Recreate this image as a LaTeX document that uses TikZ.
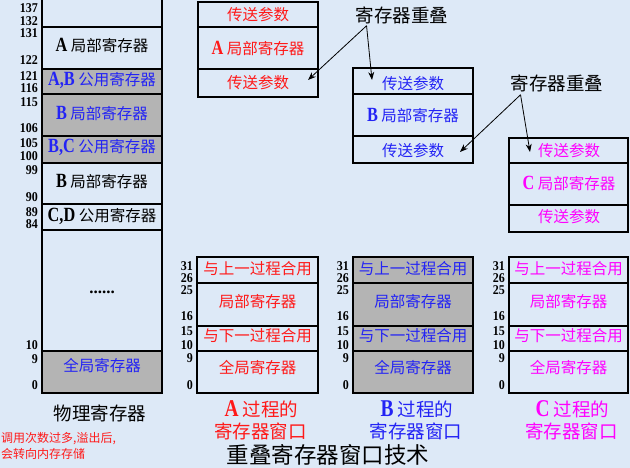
\documentclass[tikz,border=0pt]{standalone}
\usepackage{fontspec}
\usepackage{graphicx}
\setmainfont{Liberation Serif}
\newfontfamily\cjk{Noto Sans CJK SC}
\usetikzlibrary{arrows.meta}
\definecolor{bg}{RGB}{221,233,247}
\definecolor{cellgray}{RGB}{180,180,180}
\definecolor{myred}{RGB}{255,25,25}
\definecolor{myblue}{RGB}{35,35,245}
\definecolor{mymag}{RGB}{255,0,255}
\newcommand\latb[1]{\scalebox{1.05}[1.3]{\normalfont\bfseries #1}}
\newcommand\numb[1]{\scalebox{1.0}[1.12]{\bfseries #1}}
\begin{document}
\begin{tikzpicture}[x=1pt,y=-1pt,
  cell/.style={font=\cjk\fontsize{15.5}{16}\selectfont, inner sep=0pt},
  num/.style={font=\bfseries\fontsize{12}{12}\selectfont, anchor=east, inner sep=0pt, text height=9pt, text depth=0pt},
  outerln/.style={line width=1.8pt},
  innerln/.style={line width=1.1pt},
  big/.style={font=\cjk\fontsize{18.5}{19}\selectfont, inner sep=0pt},
  arr/.style={-{Stealth[length=8pt,width=6pt]}, line width=0.8pt}
]
\fill[bg] (0,0) rectangle (630,468);
\useasboundingbox (0,0) rectangle (630,468);

% ---------------- physical registers ----------------
\fill[cellgray] (42,69) rectangle (162,163);
\fill[cellgray] (42,351) rectangle (162,393);
\foreach \y in {69,94,136,163,204,230,351} \draw[innerln] (42,\y) -- (162,\y);
\draw[line width=1.6pt] (42,27) -- (162,27);
\draw[outerln] (42,-2) -- (42,393) -- (162,393) -- (162,-2);
\foreach \v/\y in {137/8,132/21,131/33,122/60,121/76,116/88,115/102,106/128,105/143,100/156,99/170,90/197,89/212,84/224,10/345,9/359,0/385}
  \node[num] (pn\v) at (38,\y) {\numb{\v}};
\node[cell] (p1) at (102,45) {\latb{A} 局部寄存器};
\node[cell, text=myblue] (p2) at (102,80) {\latb{A,B} 公用寄存器};
\node[cell, text=myblue] (p3) at (102,114) {\latb{B} 局部寄存器};
\node[cell, text=myblue] (p4) at (102,147) {\latb{B,C} 公用寄存器};
\node[cell] (p5) at (102,182) {\latb{B} 局部寄存器};
\node[cell] (p6) at (102,216) {\latb{C,D} 公用寄存器};
\node[font=\bfseries\fontsize{17}{17}\selectfont, inner sep=0pt] (p7) at (102,292) {......};
\node[cell, text=myblue] (p8) at (102,366) {全局寄存器};
\node[big] (plab) at (100,413) {物理寄存器};
\node[font=\cjk\fontsize{12}{14}\selectfont, text=myred, anchor=west, inner sep=0pt] (note1) at (1,439) {调用次数过多,溢出后,};
\node[font=\cjk\fontsize{12}{14}\selectfont, text=myred, anchor=west, inner sep=0pt] (note2) at (1,454) {会转向内存存储};

% ---------------- overlapping boxes ----------------
% A
\draw[innerln] (198,27) -- (318,27) (198,69) -- (318,69);
\draw[outerln] (198,2) rectangle (318,97);
\node[cell, text=myred] (a1) at (258,15) {传送参数};
\node[cell, text=myred] (a2) at (258,48) {\latb{A} 局部寄存器};
\node[cell, text=myred] (a3) at (258,83) {传送参数};
% B
\draw[innerln] (353,94) -- (473,94) (353,136) -- (473,136);
\draw[outerln] (353,68) rectangle (473,163);
\node[cell, text=myblue] (b1) at (413,84) {传送参数};
\node[cell, text=myblue] (b2) at (413,116) {\latb{B} 局部寄存器};
\node[cell, text=myblue] (b3) at (413,151) {传送参数};
% C
\draw[innerln] (509,163) -- (628,163) (509,205) -- (628,205);
\draw[outerln] (509,138) rectangle (628,232);
\node[cell, text=mymag] (c1) at (569,151) {传送参数};
\node[cell, text=mymag] (c2) at (569,183) {\latb{C} 局部寄存器};
\node[cell, text=mymag] (c3) at (569,217) {传送参数};

% overlap labels and arrows
\node[big] (ov1) at (402,15) {寄存器重叠};
\node[big] (ov2) at (557,83) {寄存器重叠};
\coordinate (t1a) at (308,80);
\coordinate (t1b) at (372,80);
\coordinate (t2a) at (460,152);
\coordinate (t2b) at (530,152);
\draw[arr] ([xshift=11pt,yshift=-2pt]ov1.south west) -- (t1a);
\draw[arr] ([xshift=11pt,yshift=-2pt]ov1.south west) -- (t1b);
\draw[arr] ([xshift=10pt,yshift=-3pt]ov2.south west) -- (t2a);
\draw[arr] ([xshift=10pt,yshift=-3pt]ov2.south west) -- (t2b);

% ---------------- register windows ----------------
\foreach \nm/\xl/\xr/\col/\fc/\lt in {A/197/318/myred/bg/A, B/353/473/myblue/cellgray/B, C/509/628/mymag/bg/C}{
  \fill[\fc] (\xl,257) rectangle (\xr,393);
  \draw[innerln] (\xl,283) -- (\xr,283) (\xl,326) -- (\xr,326) (\xl,351) -- (\xr,351);
  \draw[outerln] (\xl,257) rectangle (\xr,393);
  \pgfmathsetmacro\xc{(\xl+\xr)/2}
  \pgfmathsetmacro\xn{\xl-4}
  \foreach \v/\y in {31/266,26/278,25/290,16/316,15/331,10/345,9/358,0/385}
    \node[num] (w\nm n\v) at (\xn,\y) {\numb{\v}};
  \node[cell, text=\col] (w\nm1) at (\xc,269) {与上一过程合用};
  \node[cell, text=\col] (w\nm2) at (\xc,302) {局部寄存器};
  \node[cell, text=\col] (w\nm3) at (\xc,336) {与下一过程合用};
  \node[cell, text=\col] (w\nm4) at (\xc,368) {全局寄存器};
  \node[big, text=\col] (w\nm c1) at (\xc+4,409) {\latb{\lt} 过程的};
  \node[big, text=\col] (w\nm c2) at (\xc+3,431) {寄存器窗口};
}

\node[font=\cjk\fontsize{22.5}{23}\selectfont, inner sep=0pt] (title) at (328,455) {重叠寄存器窗口技术};
\end{tikzpicture}
\end{document}
